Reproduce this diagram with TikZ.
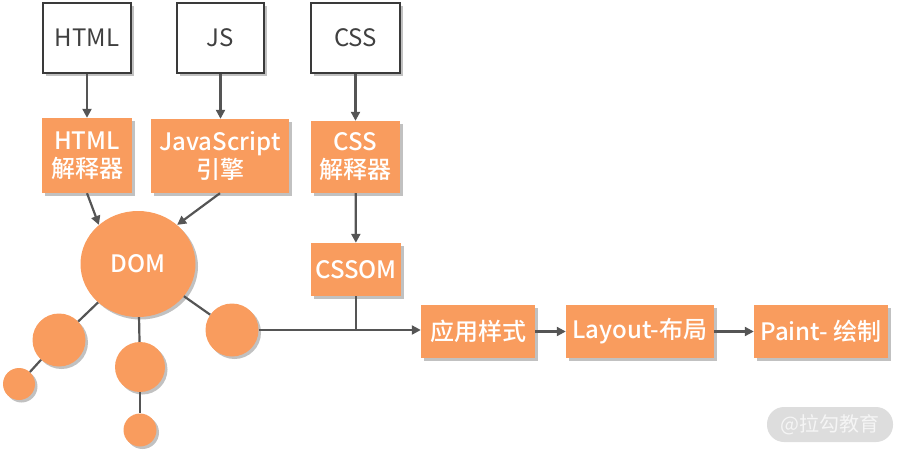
\documentclass[tikz,border=0pt]{standalone}
\usepackage{fontspec}
\setmainfont{Noto Sans CJK SC}[BoldFont={Noto Sans CJK SC Medium}]
\usetikzlibrary{arrows.meta,shapes.geometric,shadows}
\definecolor{orng}{HTML}{F99C5E}
\definecolor{ink}{HTML}{555555}
\definecolor{boxline}{HTML}{3A3A3A}
\definecolor{pill}{HTML}{DDDDDD}
\tikzset{
  shade/.style={drop shadow={shadow xshift=2.5pt,shadow yshift=-2.5pt,opacity=0.35,fill=black!70}},
  srcbox/.style={draw=boxline,line width=1.1pt,fill=white,shade,
    font=\fontsize{24}{28}\selectfont,text=black!75,inner sep=0pt},
  stagebox/.style={fill=orng,shade,text=white,
    font=\bfseries\fontsize{24}{28}\selectfont,align=center,inner sep=0pt},
  ball/.style={circle,fill=orng,shade,inner sep=0pt},
  flow/.style={draw=ink,line width=2.2pt,-{Triangle[length=9pt,width=9pt]}},
  link/.style={draw=ink,line width=2.2pt}
}
\begin{document}
\begin{tikzpicture}[x=1pt,y=-1pt]
\useasboundingbox (0,0) rectangle (907,455);

% source files
\node[srcbox,minimum width=88pt,minimum height=70pt] (html) at (87,38) {HTML};
\node[srcbox,minimum width=87pt,minimum height=70pt] (js) at (220.5,38) {JS};
\node[srcbox,minimum width=89pt,minimum height=70pt] (css) at (355.5,38) {CSS};

% parsers / engines
\node[stagebox,minimum width=90pt,minimum height=75pt] (hp) at (87,155.5) {HTML\\[0pt]解释器};
\node[stagebox,minimum width=138pt,minimum height=74pt] (jse) at (220,156) {JavaScript\\[0pt]引擎};
\node[stagebox,minimum width=89pt,minimum height=72pt] (cp) at (355.5,157) {CSS\\[0pt]解释器};

% DOM tree
\node[ellipse,fill=orng,shade,text=white,font=\bfseries\fontsize{24}{28}\selectfont,
  minimum width=115pt,minimum height=106pt,inner sep=0pt] (dom) at (138,264) {DOM};
\node[ball,minimum size=53pt] (c1) at (59,340) {};
\node[ball,minimum size=32pt] (c2) at (19,384) {};
\node[ball,minimum size=50pt] (c3) at (140,367) {};
\node[ball,minimum size=33pt] (c4) at (140,430) {};
\node[ball,minimum size=53pt] (c5) at (232,330) {};

% CSSOM
\node[stagebox,minimum width=90pt,minimum height=53pt] (cssom) at (356,269.5) {CSSOM};

% rendering pipeline
\node[stagebox,minimum width=114pt,minimum height=53pt] (apply) at (478,331.5) {应用样式};
\node[stagebox,minimum width=148pt,minimum height=53pt] (layout) at (640,331.5) {Layout-布局};
\node[stagebox,minimum width=134pt,minimum height=53pt] (paint) at (821,331.5) {Paint- 绘制};

% tree edges
\draw[link] (dom) -- (c1);
\draw[link] (c1) -- (c2);
\draw[link] (dom) -- (c3);
\draw[link] (c3) -- (c4);
\draw[link] (dom) -- (c5);

% arrows
\draw[flow] (html) -- (hp);
\draw[flow] (js) -- (js |- jse.north);
\draw[flow] (css) -- (cp);
\draw[flow] (hp.south) -- (dom.135);
\draw[flow] (jse.south) -- (dom.45);
\draw[flow] (cp) -- (cssom);
\coordinate (join) at (cssom.south |- c5.east);
\draw[link] (cssom.south) -- (join);
\draw[flow] (c5.east) -- (c5.east -| apply.west);
\draw[flow] (apply) -- (layout);
\draw[flow] (layout) -- (paint);

% badge
\node[fill=pill,rounded corners=17pt,minimum width=126pt,minimum height=35pt,
  text=white!96!black,font=\fontsize{20}{24}\selectfont,inner sep=0pt] (badge) at (830,424.5) {@拉勾教育};
\end{tikzpicture}
\end{document}
